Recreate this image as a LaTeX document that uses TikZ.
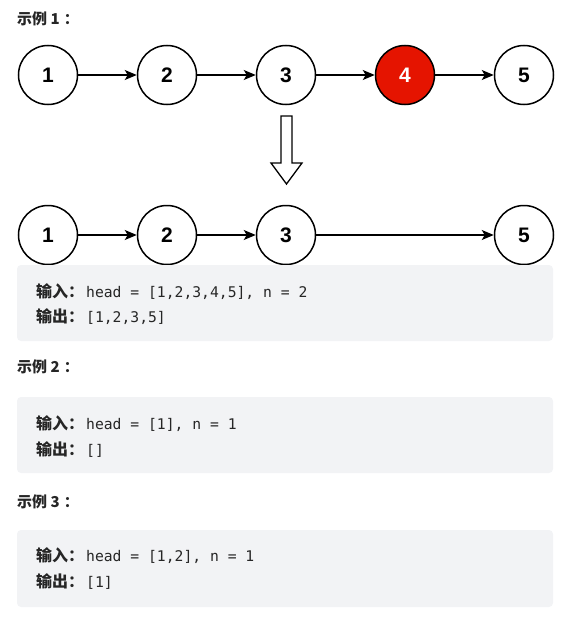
\documentclass[tikz,border=0pt]{standalone}
\usepackage{fontspec}
\setmainfont{Liberation Sans}
\newfontfamily\cjk{Noto Sans CJK SC}
\newfontfamily\codefont{DejaVu Sans Mono}
\newfontfamily\numfont{Liberation Sans}
\usetikzlibrary{arrows.meta}
\definecolor{nodered}{HTML}{E51400}
\definecolor{boxgray}{HTML}{F2F3F5}
\definecolor{txt}{HTML}{262626}
\tikzset{
  listnode/.style={circle, draw=black, line width=1.5pt, minimum size=59pt, inner sep=0pt, fill=white,
    font=\numfont\fontsize{21}{21}\selectfont\bfseries},
  rednode/.style={listnode, fill=nodered, text=white},
  link/.style={line width=1.4pt, -{Stealth[length=12pt,width=10pt,inset=3pt]}},
  codebox/.style={fill=boxgray, rounded corners=4pt, draw=none},
  heading/.style={anchor=base west, inner sep=0pt, text=txt, font=\cjk\fontsize{15}{15}\selectfont\bfseries},
  codeline/.style={anchor=base west, inner sep=0pt, text=txt},
  bigarrow/.style={draw=black, line width=1.3pt, fill=white, line join=miter}
}
\newcommand{\lbl}[1]{{\cjk\fontsize{16}{16}\selectfont\bfseries #1}\kern2pt}
\newcommand{\cod}[1]{{\codefont\fontsize{14.7}{14.7}\selectfont #1}}
\newcommand{\hd}[1]{示例 #1\kern4pt：}
\begin{document}
\begin{tikzpicture}[x=1pt,y=-1pt]
\useasboundingbox (0,0) rectangle (569,621);
% heading 1
\node[heading] (h1) at (17,24) {\hd{1}};
% top row
\node[listnode] (a1) at (48,75) {1};
\node[listnode] (a2) at (167,75) {2};
\node[listnode] (a3) at (286,75) {3};
\node[rednode]  (a4) at (405,75) {4};
\node[listnode] (a5) at (524,75) {5};
\draw[link] (a1) -- (a2);
\draw[link] (a2) -- (a3);
\draw[link] (a3) -- (a4);
\draw[link] (a4) -- (a5);
% big down arrow
\draw[bigarrow] (281,116) -- (292,116) -- (292,163) -- (302,163) -- (286.5,184) -- (271,163) -- (281,163) -- cycle;
% bottom row
\node[listnode] (b1) at (48,235) {1};
\node[listnode] (b2) at (167,235) {2};
\node[listnode] (b3) at (286,235) {3};
\node[listnode] (b5) at (524,235) {5};
\draw[link] (b1) -- (b2);
\draw[link] (b2) -- (b3);
\draw[link] (b3) -- (b5);
% box 1
\fill[codebox] (17,265) rectangle (553,341);
\node[codeline] (l11) at (36,297) {\lbl{输入：}\cod{head = [1,2,3,4,5], n = 2}};
\node[codeline] (l12) at (36,322) {\lbl{输出：}\cod{[1,2,3,5]}};
% heading 2
\node[heading] (h2) at (17,372) {\hd{2}};
\fill[codebox] (17,397) rectangle (553,473);
\node[codeline] (l21) at (36,429) {\lbl{输入：}\cod{head = [1], n = 1}};
\node[codeline] (l22) at (36,455) {\lbl{输出：}\cod{[]}};
% heading 3
\node[heading] (h3) at (17,507) {\hd{3}};
\fill[codebox] (17,530) rectangle (553,607);
\node[codeline] (l31) at (36,561) {\lbl{输入：}\cod{head = [1,2], n = 1}};
\node[codeline] (l32) at (36,587) {\lbl{输出：}\cod{[1]}};
\end{tikzpicture}
\end{document}
